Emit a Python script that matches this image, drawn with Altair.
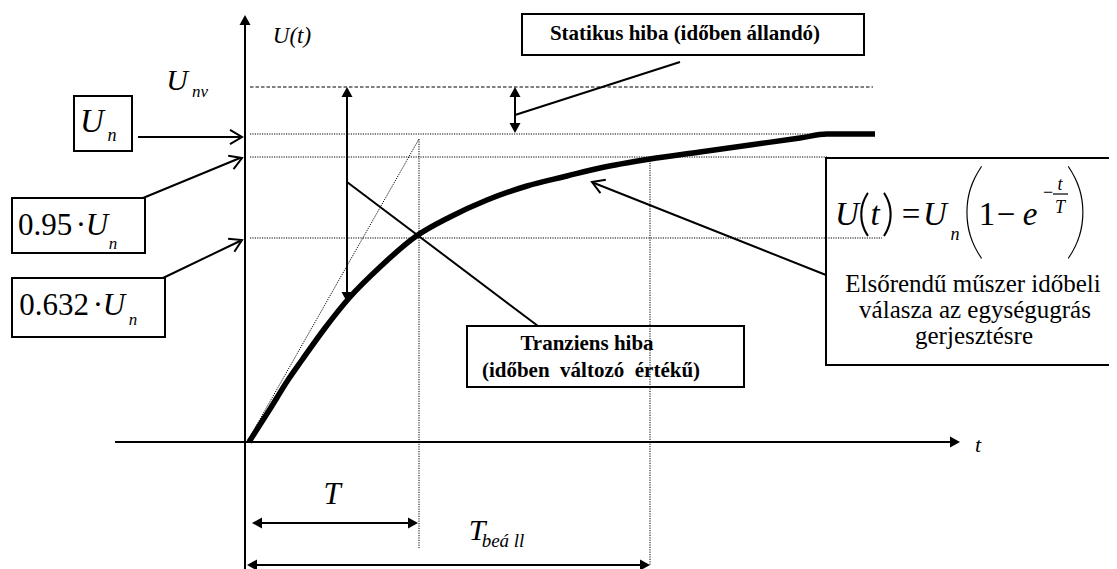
import altair as alt
import pandas as pd

# ---- thick step-response curve (diagram coordinates, px of the figure) ----
curve_x = [249, 270, 288, 302, 325, 350, 380, 415, 450, 487, 527, 567, 600, 650, 700, 750, 800, 827, 875]
curve_y = [442, 409, 380, 360, 328, 297, 267, 237, 217, 200, 186, 176, 168, 159, 152, 145, 138, 134, 134]

# ---- solid thin lines: axes, leaders, arrow shafts ----
solid_x1 = [245, 115, 138, 143, 163, 347, 347, 515, 515, 826, 258, 253]
solid_y1 = [569, 442, 137, 198, 278, 95, 182, 95, 115, 275, 523, 565]
solid_x2 = [245, 950, 240, 240, 240, 347, 538, 515, 680, 594, 412, 644]
solid_y2 = [24, 442, 137, 158, 241, 295, 326, 126, 62, 183, 523, 565]

# ---- dotted helper lines ----
dot_x1 = [250, 250, 250, 419, 650, 247]
dot_y1 = [134, 157, 238, 139, 158, 442]
dot_x2 = [828, 827, 882, 419, 650, 419]
dot_y2 = [134, 157, 238, 548, 566, 139]

# ---- dashed line (U_nv) ----
dash_x1 = [250]
dash_y1 = [87]
dash_x2 = [873]
dash_y2 = [87]

# ---- fraction bar in formula ----
bar_x1 = [1053]
bar_y1 = [194]
bar_x2 = [1068]
bar_y2 = [194]

# ---- boxes ----
box_x1 = [74, 12, 12, 522, 467, 826]
box_y1 = [96, 198, 278, 14, 326, 158]
box_x2 = [132, 145, 165, 864, 744, 1113]
box_y2 = [151, 253, 337, 55, 387, 365]

# ---- filled arrowheads (tip position, direction in degrees clockwise from +x) ----
head_x = [245, 960, 347, 347, 515, 515, 252, 418, 247, 650]
head_y = [15, 442, 87, 302, 87, 133, 523, 523, 565, 565]
head_a = [270, 0, 270, 90, 270, 90, 180, 0, 180, 0]

# ---- open arrowheads ----
open_x = [242, 242, 242, 592]
open_y = [137, 158, 240, 182]
open_a = [0, 338, 334, 202]

# ---- texts (kind: i = italic serif, n = regular serif, b = bold serif,
#             p = thin large parenthesis, q = light small parenthesis) ----
txt_text = [
    "U(t)", "U", "nv", "U", "n",
    "0.95", "·", "U", "n",
    "0.632", "·", "U", "n",
    "t", "T", "T", "beá ll",
    "U", "(", "t", ")", "=", "U", "n", "(", "1", "−", "e", "−", "t", "T", ")",
    "Elsőrendű műszer időbeli", "válasza az egységugrás", "gerjesztésre",
    "Statikus hiba (időben állandó)", "Tranziens hiba",
    "(időben \u00a0változó \u00a0értékű)",
]
txt_x = [
    292, 177, 200, 92, 112,
    45, 81, 97, 113,
    54, 98, 114, 133,
    978, 332, 477, 503,
    847, 864, 875, 888, 911, 935, 955, 973, 987, 1006, 1030, 1048, 1060, 1060, 1077,
    973, 975, 974,
    685, 587, 591,
]
txt_y = [
    43, 90, 97, 132, 141,
    235, 235, 235, 249,
    315, 315, 315, 325,
    452, 504, 540, 547,
    225, 230, 225, 230, 225, 225, 240, 246, 225, 225, 225, 198, 190, 213, 246,
    292, 318, 344,
    40, 350, 377,
]
txt_size = [
    23, 30, 17, 33, 18,
    31, 31, 31, 17,
    31, 31, 31, 17,
    22, 31, 30, 19,
    33, 50, 33, 50, 33, 33, 18, 107, 33, 33, 33, 18, 18, 18, 107,
    25, 25, 25,
    21, 21, 21,
]
txt_kind = [
    "i", "i", "i", "i", "i",
    "n", "n", "i", "i",
    "n", "n", "i", "i",
    "i", "i", "i", "i",
    "i", "q", "i", "q", "n", "i", "i", "p", "n", "n", "i", "n", "i", "i", "p",
    "n", "n", "n",
    "b", "b", "b",
]

FONT = "Liberation Serif"

X = alt.X("x:Q", scale=alt.Scale(domain=[8, 1109], nice=False, zero=False), axis=None)
Y = alt.Y("y:Q", scale=alt.Scale(domain=[8, 569], nice=False, zero=False, reverse=True), axis=None)
X2 = alt.X2("x2:Q")
Y2 = alt.Y2("y2:Q")


def seg_df(x1, y1, x2, y2):
    return pd.DataFrame({"x": x1, "y": y1, "x2": x2, "y2": y2})


curve = alt.Chart(pd.DataFrame({"x": curve_x, "y": curve_y, "o": range(len(curve_x))})).mark_line(
    color="black", strokeWidth=5.5, strokeCap="butt", strokeJoin="round", interpolate="monotone"
).encode(x=X, y=Y, order="o:Q")

solid = alt.Chart(seg_df(solid_x1, solid_y1, solid_x2, solid_y2)).mark_rule(
    color="black", strokeWidth=2
).encode(x=X, y=Y, x2=X2, y2=Y2)

dotted = alt.Chart(seg_df(dot_x1, dot_y1, dot_x2, dot_y2)).mark_rule(
    color="black", strokeWidth=1, strokeDash=[1.2, 1.2]
).encode(x=X, y=Y, x2=X2, y2=Y2)

dashed = alt.Chart(seg_df(dash_x1, dash_y1, dash_x2, dash_y2)).mark_rule(
    color="black", strokeWidth=1, strokeDash=[3.5, 2]
).encode(x=X, y=Y, x2=X2, y2=Y2)

fbar = alt.Chart(seg_df(bar_x1, bar_y1, bar_x2, bar_y2)).mark_rule(
    color="black", strokeWidth=1.2
).encode(x=X, y=Y, x2=X2, y2=Y2)

boxes = alt.Chart(seg_df(box_x1, box_y1, box_x2, box_y2)).mark_rect(
    fillOpacity=0, stroke="black", strokeWidth=2
).encode(x=X, y=Y, x2=X2, y2=Y2)

heads = alt.Chart(pd.DataFrame({"x": head_x, "y": head_y, "a": head_a})).mark_point(
    shape="M0,0L-1,-0.55L-1,0.55Z", filled=True, size=400, color="black", opacity=1, strokeWidth=0
).encode(x=X, y=Y, angle=alt.Angle("a:Q", scale=None))

opens = alt.Chart(pd.DataFrame({"x": open_x, "y": open_y, "a": open_a})).mark_point(
    shape="M-1,-0.6L0,0L-1,0.6", filled=False, size=576, color="black", opacity=1, strokeWidth=2
).encode(x=X, y=Y, angle=alt.Angle("a:Q", scale=None))

tdf = pd.DataFrame({"x": txt_x, "y": txt_y, "t": txt_text, "s": txt_size, "k": txt_kind})
styles = {
    "i": dict(font=FONT, fontStyle="italic"),
    "n": dict(font=FONT),
    "b": dict(font=FONT, fontWeight="bold"),
    "p": dict(font="Lato", fontWeight=100),
    "q": dict(font="Lato", fontWeight=300),
}
text_layers = []
for k, extra in styles.items():
    text_layers.append(
        alt.Chart(tdf[tdf["k"] == k]).mark_text(
            align="center", baseline="alphabetic", color="black", **extra
        ).encode(x=X, y=Y, text="t:N", size=alt.Size("s:Q", scale=None))
    )

chart = alt.layer(dotted, dashed, solid, fbar, boxes, curve, heads, opens, *text_layers).properties(
    width=1101, height=561, autosize=alt.AutoSizeParams(type="none"), padding=0, background="white"
).configure_view(stroke=None)

chart.save("out.html", embed_options={"renderer": "svg", "actions": False})
